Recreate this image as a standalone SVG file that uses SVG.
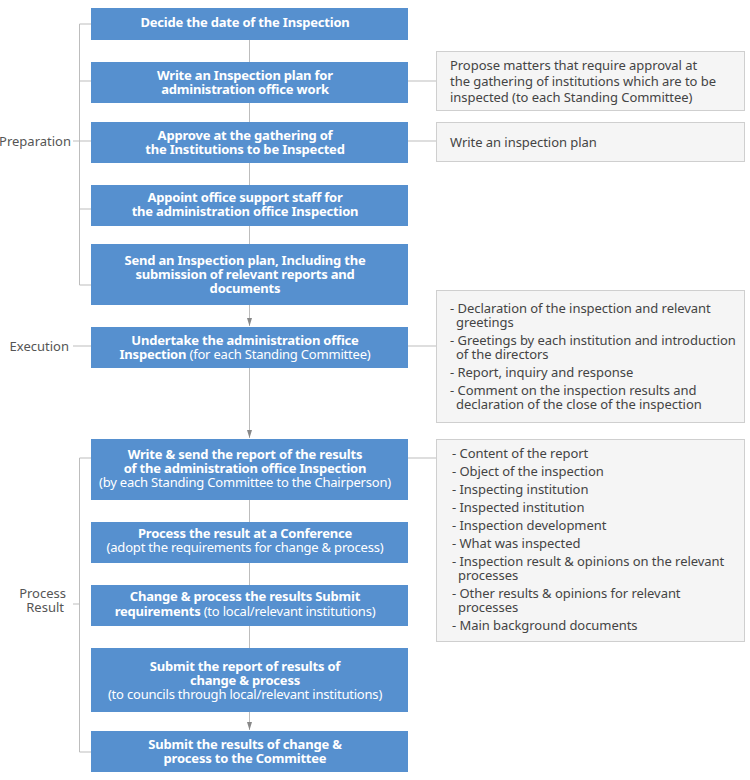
<svg xmlns="http://www.w3.org/2000/svg" width="750" height="780" viewBox="0 0 750 780">
<defs>
<style>
.bx{fill:#5690cf;}
.bt{font-family:"Noto Sans","Liberation Sans",sans-serif;font-size:13px;font-weight:bold;fill:#fff;text-anchor:middle;letter-spacing:-0.2px;}
.bt .r{font-weight:normal;}
.gb{fill:#f5f5f5;stroke:#cfcfcf;stroke-width:1;}
.gt{font-family:"Noto Sans","Liberation Sans",sans-serif;font-size:13px;fill:#444;letter-spacing:-0.05px;}
.lb{font-family:"Noto Sans","Liberation Sans",sans-serif;font-size:13px;fill:#555;text-anchor:end;}
.ln{stroke:#bdbdbd;stroke-width:1;fill:none;}
</style>
<marker id="ah" viewBox="0 0 8 5" refX="8" refY="2.5" markerWidth="8" markerHeight="5" markerUnits="userSpaceOnUse" orient="auto">
<path d="M0,0 L8,2.5 L0,5 Z" fill="#888"/>
</marker>
</defs>

<g id="connectors">
<path class="ln" d="M249.5,40 V62 M249.5,103 V122 M249.5,163 V185 M249.5,226 V244"/>
<path class="ln" d="M249.5,305 V326" marker-end="url(#ah)"/>
<path class="ln" d="M249.5,368 V438" marker-end="url(#ah)"/>
<path class="ln" d="M249.5,500 V522 M249.5,563 V585 M249.5,626 V648"/>
<path class="ln" d="M249.5,712 V730" marker-end="url(#ah)"/>
<path class="ln" d="M91,24 H79.5 V285 H91 M79.5,81 H91 M79.5,141 H91 M79.5,209 H91 M73,141 H79.5"/>
<path class="ln" d="M73,346 H91"/>
<path class="ln" d="M91,458 H79.5 V752 H91 M73,604 H79.5"/>
<path class="ln" d="M408,81 H436 M408,141 H436 M408,346 H436 M408,458 H436"/>
</g>

<g id="label-preparation"><text class="lb" x="71" y="146">Preparation</text></g>
<g id="label-execution"><text class="lb" x="69" y="351">Execution</text></g>
<g id="label-process-result"><text class="lb" x="66" y="598">Process</text><text class="lb" x="64" y="612">Result</text></g>

<g id="n1"><rect class="bx" x="91" y="8" width="317" height="32"/>
<text class="bt" x="245" y="27">Decide the date of the Inspection</text></g>

<g id="n2"><rect class="bx" x="91" y="62" width="317" height="41"/>
<text class="bt" x="245" y="80">Write an Inspection plan for</text>
<text class="bt" x="245" y="94">administration office work</text></g>

<g id="n3"><rect class="bx" x="91" y="122" width="317" height="41"/>
<text class="bt" x="245" y="140">Approve at the gathering of</text>
<text class="bt" x="245" y="154">the Institutions to be Inspected</text></g>

<g id="n4"><rect class="bx" x="91" y="185" width="317" height="41"/>
<text class="bt" x="245" y="202">Appoint office support staff for</text>
<text class="bt" x="245" y="216">the administration office Inspection</text></g>

<g id="n5"><rect class="bx" x="91" y="244" width="317" height="61"/>
<text class="bt" x="245" y="265">Send an Inspection plan, Including the</text>
<text class="bt" x="245" y="279">submission of relevant reports and</text>
<text class="bt" x="245" y="293">documents</text></g>

<g id="n6"><rect class="bx" x="91" y="327" width="317" height="41"/>
<text class="bt" x="245" y="345">Undertake the administration office</text>
<text class="bt" x="245" y="359">Inspection <tspan class="r">(for each Standing Committee)</tspan></text></g>

<g id="n7"><rect class="bx" x="91" y="439" width="317" height="61"/>
<text class="bt" x="245" y="459">Write &amp; send the report of the results</text>
<text class="bt" x="245" y="473">of the administration office Inspection</text>
<text class="bt" x="245" y="487"><tspan class="r">(by each Standing Committee to the Chairperson)</tspan></text></g>

<g id="n8"><rect class="bx" x="91" y="522" width="317" height="41"/>
<text class="bt" x="245" y="538">Process the result at a Conference</text>
<text class="bt" x="245" y="552"><tspan class="r">(adopt the requirements for change &amp; process)</tspan></text></g>

<g id="n9"><rect class="bx" x="91" y="585" width="317" height="41"/>
<text class="bt" x="245" y="601">Change &amp; process the results Submit</text>
<text class="bt" x="245" y="616">requirements <tspan class="r">(to local/relevant institutions)</tspan></text></g>

<g id="n10"><rect class="bx" x="91" y="648" width="317" height="64"/>
<text class="bt" x="245" y="671">Submit the report of results of</text>
<text class="bt" x="245" y="685">change &amp; process</text>
<text class="bt" x="245" y="699"><tspan class="r">(to councils through local/relevant institutions)</tspan></text></g>

<g id="n11"><rect class="bx" x="91" y="731" width="317" height="41"/>
<text class="bt" x="245" y="749">Submit the results of change &amp;</text>
<text class="bt" x="245" y="763">process to the Committee</text></g>

<g id="g1"><rect class="gb" x="436.5" y="51.5" width="308" height="59"/>
<text class="gt" x="450" y="70">Propose matters that require approval at</text>
<text class="gt" x="450" y="86">the gathering of institutions which are to be</text>
<text class="gt" x="450" y="102">inspected (to each Standing Committee)</text></g>

<g id="g2"><rect class="gb" x="436.5" y="122.5" width="308" height="39"/>
<text class="gt" x="450" y="147">Write an inspection plan</text></g>

<g id="g3"><rect class="gb" x="436.5" y="290.5" width="308" height="132"/>
<text class="gt" x="450" y="313">- Declaration of the inspection and relevant</text>
<text class="gt" x="456" y="327">greetings</text>
<text class="gt" x="450" y="345">- Greetings by each institution and introduction</text>
<text class="gt" x="456" y="359">of the directors</text>
<text class="gt" x="450" y="377">- Report, inquiry and response</text>
<text class="gt" x="450" y="395">- Comment on the inspection results and</text>
<text class="gt" x="456" y="409">declaration of the close of the inspection</text></g>

<g id="g4"><rect class="gb" x="436.5" y="439.5" width="308" height="202"/>
<text class="gt" x="452" y="458">- Content of the report</text>
<text class="gt" x="452" y="476">- Object of the inspection</text>
<text class="gt" x="452" y="494">- Inspecting institution</text>
<text class="gt" x="452" y="512">- Inspected institution</text>
<text class="gt" x="452" y="530">- Inspection development</text>
<text class="gt" x="452" y="548">- What was inspected</text>
<text class="gt" x="452" y="566">- Inspection result &amp; opinions on the relevant</text>
<text class="gt" x="458" y="580">processes</text>
<text class="gt" x="452" y="598">- Other results &amp; opinions for relevant</text>
<text class="gt" x="458" y="612">processes</text>
<text class="gt" x="452" y="630">- Main background documents</text></g>
</svg>
